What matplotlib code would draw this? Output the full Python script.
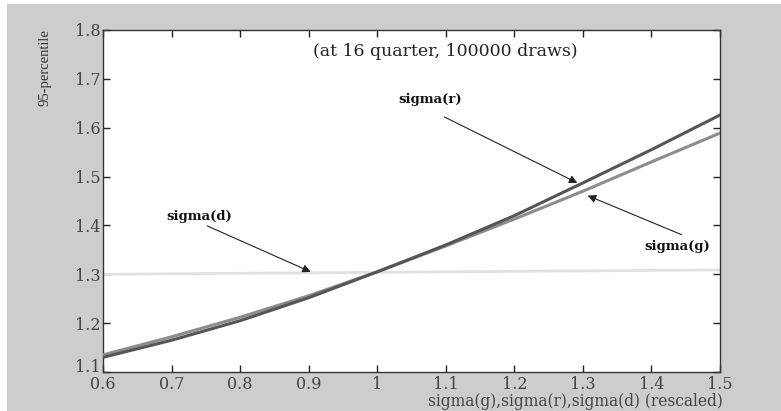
import matplotlib
matplotlib.use("Agg")
import matplotlib.pyplot as plt
import matplotlib.transforms as mtransforms
from matplotlib.patches import Rectangle

# values
x_vals = [0.6, 0.7, 0.8, 0.9, 1.0, 1.1, 1.2, 1.3, 1.4, 1.5]
sigma_r = [1.130, 1.165, 1.205, 1.252, 1.305, 1.360, 1.420, 1.487, 1.555, 1.626]
sigma_g = [1.135, 1.172, 1.212, 1.256, 1.305, 1.358, 1.413, 1.470, 1.530, 1.589]
sigma_d = [1.300, 1.301, 1.302, 1.303, 1.304, 1.305, 1.306, 1.307, 1.308, 1.309]

x_ticks = [0.6, 0.7, 0.8, 0.9, 1.0, 1.1, 1.2, 1.3, 1.4, 1.5]
x_ticklabels = ["0.6", "0.7", "0.8", "0.9", "1", "1.1", "1.2", "1.3", "1.4", "1.5"]
y_ticks = [1.1, 1.2, 1.3, 1.4, 1.5, 1.6, 1.7, 1.8]
y_ticklabels = ["1.1", "1.2", "1.3", "1.4", "1.5", "1.6", "1.7", "1.8"]

SERIF = "DejaVu Serif"
BG = "#cdcdcd"

fig = plt.figure(figsize=(7.81, 4.11), dpi=100, facecolor="white")
fig.patches.append(Rectangle((7 / 781, 0), 1, 1 - 4 / 411, transform=fig.transFigure,
                             facecolor=BG, edgecolor="none", zorder=-10))

ax = fig.add_axes([103 / 781, 1 - 372 / 411, 617 / 781, 342 / 411])
ax.set_facecolor("white")

ax.plot(x_vals, sigma_d, color="#e0e0e0", lw=2.0, zorder=2)
ax.plot(x_vals, sigma_g, color="#8c8c8c", lw=2.2, zorder=3)
ax.plot(x_vals, sigma_r, color="#555555", lw=2.2, zorder=4)

ax.set_xlim(0.6, 1.5)
ax.set_ylim(1.1, 1.8)
ax.set_xticks(x_ticks)
ax.set_xticklabels(x_ticklabels)
ax.set_yticks(y_ticks)
ax.set_yticklabels(y_ticklabels)
ax.tick_params(direction="in", length=5, width=1, top=True, right=True,
               labelsize=11.5, colors="#222222")
ax.tick_params(axis="x", pad=3)
ax.tick_params(axis="y", pad=2)
for lab in ax.get_xticklabels() + ax.get_yticklabels():
    lab.set_family(SERIF)
    lab.set_color("#444444")

# bottom y label sits just above the "0.6" like in the original
lift = mtransforms.ScaledTranslation(0, 5 / 72, fig.dpi_scale_trans)
ax.get_yticklabels()[0].set_transform(ax.get_yticklabels()[0].get_transform() + lift)

for sp in ax.spines.values():
    sp.set_color("#333333")
    sp.set_linewidth(1.0)

ax.text(1.099, 1.755, "(at 16 quarter, 100000 draws)", ha="center", va="center",
        fontsize=12.5, family=SERIF, color="#222222")

arrow = dict(arrowstyle="-|>", color="#222222", lw=0.8, mutation_scale=12,
             shrinkA=0, shrinkB=0)
bold = dict(fontsize=9.5, family=SERIF, fontweight="bold",
            color="#111111", ha="center", va="center")

ax.annotate("", xy=(0.903, 1.305), xytext=(0.752, 1.399), arrowprops=arrow)
ax.text(0.740, 1.418, "sigma(d)", **bold)
ax.annotate("", xy=(1.292, 1.487), xytext=(1.098, 1.622), arrowprops=arrow)
ax.text(1.077, 1.657, "sigma(r)", **bold)
ax.annotate("", xy=(1.307, 1.461), xytext=(1.444, 1.381), arrowprops=arrow)
ax.text(1.437, 1.356, "sigma(g)", **bold)

fig.text(723 / 781, 1 - 401 / 411, "sigma(g),sigma(r),sigma(d) (rescaled)", ha="right",
         va="center", fontsize=11.2, family=SERIF, color="#444444")
fig.text(45 / 781, 1 - 68 / 411, "95-percentile", rotation=90, ha="center", va="center",
         fontsize=10.5, family="Liberation Serif", color="#333333")

fig.savefig("out.png", dpi=100, facecolor=fig.get_facecolor())
